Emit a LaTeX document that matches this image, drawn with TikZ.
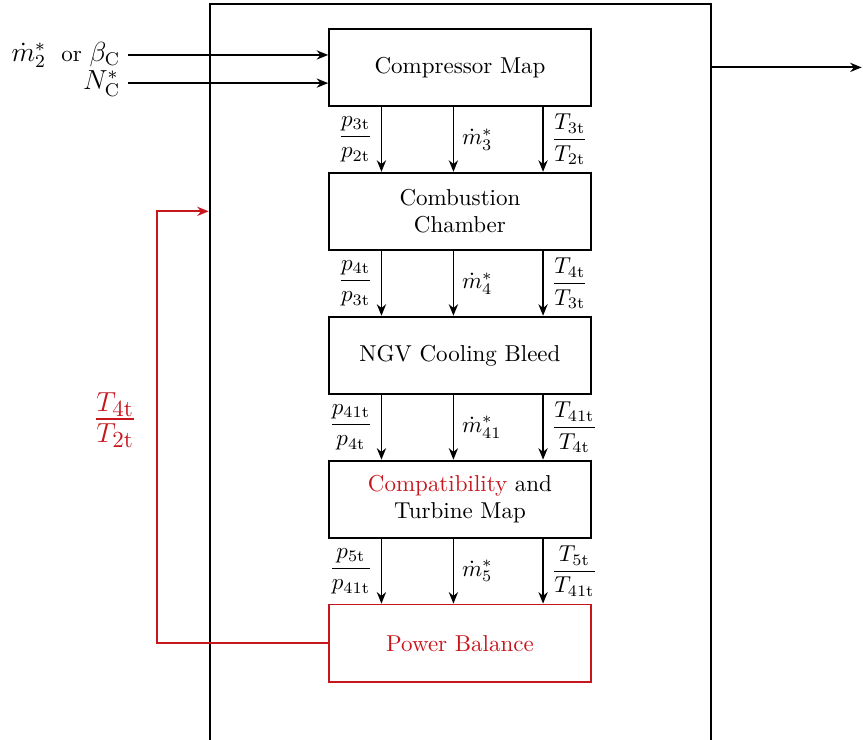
\documentclass[tikz,border=0pt]{standalone}
\usepackage{amsmath}
\usetikzlibrary{positioning,arrows.meta}
\definecolor{fbred}{HTML}{C8161D}

\begin{document}
\begin{tikzpicture}[
  block/.style={draw=#1, line width=0.8pt, minimum width=4cm, minimum height=1.18cm, align=center},
  block/.default=black,
  flow/.style={-{Stealth[length=5pt,width=4pt]}, line width=0.8pt},
  feedback/.style={-{Stealth[length=5pt,width=4pt]}, line width=0.8pt, draw=fbred}
]
\useasboundingbox (0,0) rectangle (13.19,-11.31);
\clip (0,0) rectangle (13.19,-11.31);

% system frame
\node[draw, line width=0.8pt, minimum width=7.66cm, minimum height=12cm, anchor=north west] (sys) at (3.19,-0.05) {};

\node[block] (comp) at (7.03,-1.03) {Compressor Map};
\node[block] (comb) at (7.03,-3.23) {Combustion\\Chamber};
\node[block] (ngv) at (7.03,-5.43) {NGV Cooling Bleed};
\node[block] (turb) at (7.03,-7.63) {\textcolor{fbred}{Compatibility} and\\Turbine Map};
\node[block=fbred, text=fbred] (power) at (7.03,-9.83) {Power Balance};

% inputs
\node[anchor=east] (mdot) at (1.96,-0.84) {{\large$\dot{m}_2^*$}~~or~{\large$\beta_\mathrm{C}$}};
\node[anchor=east] (speed) at (1.96,-1.27) {\large$N_\mathrm{C}^*$};
\draw[flow] (mdot.east) -- (mdot.east -| comp.west);
\draw[flow] (speed.east) -- (speed.east -| comp.west);

% compressor -> combustion
\draw[flow] ([xshift=-1.2cm]comp.south) -- ([xshift=-1.2cm]comb.north) node[midway, left] {$\dfrac{p_{3\mathrm{t}}}{p_{2\mathrm{t}}}$};
\draw[flow] ([xshift=-0.1cm]comp.south) -- ([xshift=-0.1cm]comb.north) node[midway, right] {$\dot{m}_3^*$};
\draw[flow] ([xshift=1.27cm]comp.south) -- ([xshift=1.27cm]comb.north) node[midway, right] {$\dfrac{T_{3\mathrm{t}}}{T_{2\mathrm{t}}}$};

% combustion -> ngv
\draw[flow] ([xshift=-1.2cm]comb.south) -- ([xshift=-1.2cm]ngv.north) node[midway, left] {$\dfrac{p_{4\mathrm{t}}}{p_{3\mathrm{t}}}$};
\draw[flow] ([xshift=-0.1cm]comb.south) -- ([xshift=-0.1cm]ngv.north) node[midway, right] {$\dot{m}_4^*$};
\draw[flow] ([xshift=1.27cm]comb.south) -- ([xshift=1.27cm]ngv.north) node[midway, right] {$\dfrac{T_{4\mathrm{t}}}{T_{3\mathrm{t}}}$};

% ngv -> turbine
\draw[flow] ([xshift=-1.2cm]ngv.south) -- ([xshift=-1.2cm]turb.north) node[midway, left] {$\dfrac{p_{41\mathrm{t}}}{p_{4\mathrm{t}}}$};
\draw[flow] ([xshift=-0.1cm]ngv.south) -- ([xshift=-0.1cm]turb.north) node[midway, right] {$\dot{m}_{41}^*$};
\draw[flow] ([xshift=1.27cm]ngv.south) -- ([xshift=1.27cm]turb.north) node[midway, right] {$\dfrac{T_{41\mathrm{t}}}{T_{4\mathrm{t}}}$};

% turbine -> power balance
\draw[flow] ([xshift=-1.2cm]turb.south) -- ([xshift=-1.2cm]power.north) node[midway, left] {$\dfrac{p_{5\mathrm{t}}}{p_{41\mathrm{t}}}$};
\draw[flow] ([xshift=-0.1cm]turb.south) -- ([xshift=-0.1cm]power.north) node[midway, right] {$\dot{m}_5^*$};
\draw[flow] ([xshift=1.27cm]turb.south) -- ([xshift=1.27cm]power.north) node[midway, right] {$\dfrac{T_{5\mathrm{t}}}{T_{41\mathrm{t}}}$};

% output
\coordinate (out) at (13.17,-1.03);
\draw[flow] (sys.east |- comp) -- (out);

% temperature ratio feedback
\coordinate (fb) at (2.40,-6.42);
\node[text=fbred, font=\LARGE] (ratio) at (1.76,-6.42) {$\frac{T_{4\mathrm{t}}}{T_{2\mathrm{t}}}$};
\draw[feedback] (power.west) -| (fb |- comb) -- (sys.west |- comb);
\end{tikzpicture}
\end{document}
